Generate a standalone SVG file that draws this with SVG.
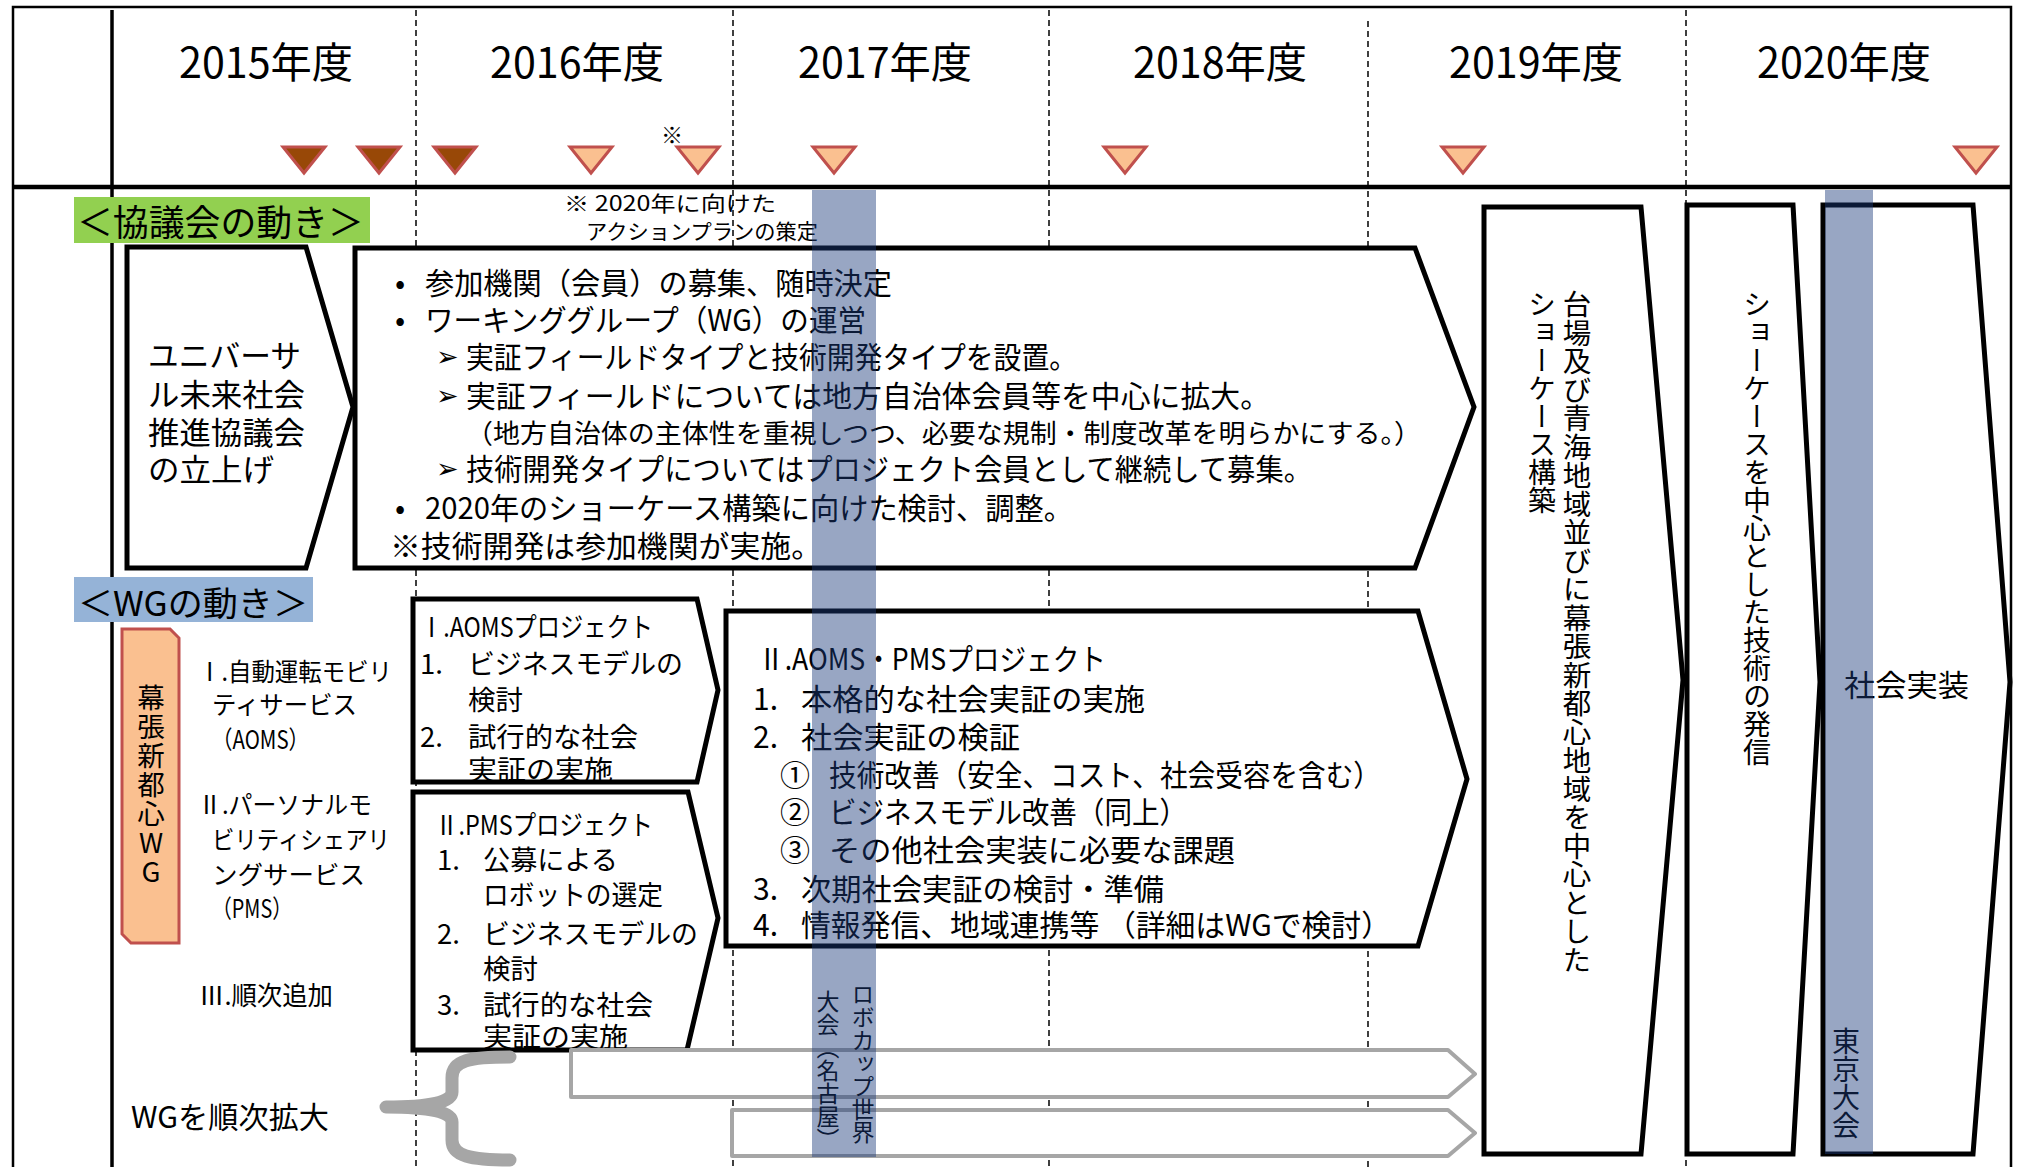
<svg xmlns="http://www.w3.org/2000/svg" xmlns:xlink="http://www.w3.org/1999/xlink" width="2018" height="1167" viewBox="0 0 2018 1167">
<style>
.t{font-family:"Noto Sans CJK JP","DejaVu Sans",sans-serif;fill:#000}
.arw{font-family:"DejaVu Sans","Noto Sans Symbols 2","Noto Sans CJK JP",sans-serif;fill:#000}
.c{dominant-baseline:central}
.v{writing-mode:vertical-rl;text-orientation:mixed}
.vu{writing-mode:vertical-rl;text-orientation:upright}
.box{fill:#fff;stroke:#000;stroke-width:5;stroke-linejoin:miter}
.gray{fill:#fff;stroke:#A6A6A6;stroke-width:4;stroke-linejoin:round}
.brace{fill:none;stroke:#A6A6A6;stroke-width:13;stroke-linecap:round;stroke-linejoin:round}
.trid{fill:#984807;stroke:#C0504D;stroke-width:3}
.tril{fill:#FAC090;stroke:#C0504D;stroke-width:3}
.dash{stroke:#000;stroke-width:1.5;stroke-dasharray:6 4;fill:none}
.band{fill:rgb(26,57,122);fill-opacity:0.45}
.year{font-size:42px}
.f30{font-size:30px}
.f27{font-size:27.5px}
.f25{font-size:25px}
</style>
<defs>
<path id="tri" d="M-21,0 L21,0 L0,26 Z"/>
</defs>
<rect width="2018" height="1167" fill="#fff"/>

<g id="grid">
<path d="M13,1167 L13,7 L2011,7 L2011,1167" fill="none" stroke="#000" stroke-width="2.5"/>
<line x1="112" y1="10" x2="112" y2="1167" stroke="#000" stroke-width="3.5"/>
<line x1="13" y1="187" x2="2011" y2="187" stroke="#000" stroke-width="4.5"/>
<line class="dash" x1="416" y1="10" x2="416" y2="1167"/>
<line class="dash" x1="733" y1="10" x2="733" y2="1167"/>
<line class="dash" x1="1049" y1="10" x2="1049" y2="1167"/>
<line class="dash" x1="1368" y1="21" x2="1368" y2="1167"/>
<line class="dash" x1="1686" y1="10" x2="1686" y2="1167"/>
</g>

<g id="years" class="t year">
<text class="c" x="179" y="59" textLength="174" lengthAdjust="spacingAndGlyphs">2015年度</text>
<text class="c" x="490" y="59" textLength="174" lengthAdjust="spacingAndGlyphs">2016年度</text>
<text class="c" x="798" y="59" textLength="174" lengthAdjust="spacingAndGlyphs">2017年度</text>
<text class="c" x="1133" y="59" textLength="174" lengthAdjust="spacingAndGlyphs">2018年度</text>
<text class="c" x="1449" y="59" textLength="174" lengthAdjust="spacingAndGlyphs">2019年度</text>
<text class="c" x="1757" y="59" textLength="174" lengthAdjust="spacingAndGlyphs">2020年度</text>
</g>

<g id="milestones">
<use xlink:href="#tri" href="#tri" class="trid" x="304" y="147"/>
<use xlink:href="#tri" href="#tri" class="trid" x="379" y="147"/>
<use xlink:href="#tri" href="#tri" class="trid" x="455" y="147"/>
<use xlink:href="#tri" href="#tri" class="tril" x="591" y="147"/>
<use xlink:href="#tri" href="#tri" class="tril" x="698" y="147"/>
<use xlink:href="#tri" href="#tri" class="tril" x="834" y="147"/>
<use xlink:href="#tri" href="#tri" class="tril" x="1125" y="147"/>
<use xlink:href="#tri" href="#tri" class="tril" x="1463" y="147"/>
<use xlink:href="#tri" href="#tri" class="tril" x="1976" y="147"/>
<text class="t c" x="672" y="133" font-size="22" text-anchor="middle">※</text>
</g>

<g id="note" class="t">
<text class="c" x="564" y="202" font-size="21" textLength="212" lengthAdjust="spacingAndGlyphs">※  2020年に向けた</text>
<text class="c" x="586" y="230" font-size="21" textLength="232" lengthAdjust="spacingAndGlyphs">アクションプランの策定</text>
</g>

<g id="label-council">
<rect x="74" y="197" width="296" height="46" fill="#92D050"/>
<text class="t c" x="77" y="220" font-size="36" textLength="287" lengthAdjust="spacingAndGlyphs">＜協議会の動き＞</text>
</g>

<g id="node-launch">
<path class="box" d="M127,247 L306,247 L353,407 L306,568 L127,568 Z"/>
<g class="t" font-size="31">
<text class="c" x="148" y="353" textLength="153" lengthAdjust="spacingAndGlyphs">ユニバーサ</text>
<text class="c" x="148" y="392" textLength="157" lengthAdjust="spacingAndGlyphs">ル未来社会</text>
<text class="c" x="148" y="430" textLength="157" lengthAdjust="spacingAndGlyphs">推進協議会</text>
<text class="c" x="148" y="467" textLength="126" lengthAdjust="spacingAndGlyphs">の立上げ</text>
</g>
</g>

<g id="node-council">
<path class="box" d="M355,248 L1415,248 L1474,407 L1415,568 L355,568 Z"/>
<g class="t f30">
<text class="c" x="395" y="281">•</text>
<text class="c" x="425" y="281" textLength="467" lengthAdjust="spacingAndGlyphs">参加機関（会員）の募集、随時決定</text>
<text class="c" x="395" y="318">•</text>
<text class="c" x="425" y="318" textLength="441" lengthAdjust="spacingAndGlyphs">ワーキンググループ（WG）の運営</text>
<text class="c" x="466" y="355" textLength="611" lengthAdjust="spacingAndGlyphs">実証フィールドタイプと技術開発タイプを設置。</text>
<text class="c" x="466" y="394" textLength="804" lengthAdjust="spacingAndGlyphs">実証フィールドについては地方自治体会員等を中心に拡大。</text>
<text class="c" x="466" y="431" font-size="26.5" textLength="955" lengthAdjust="spacingAndGlyphs">（地方自治体の主体性を重視しつつ、必要な規制・制度改革を明らかにする。）</text>
<text class="c" x="466" y="467" textLength="846" lengthAdjust="spacingAndGlyphs">技術開発タイプについてはプロジェクト会員として継続して募集。</text>
<text class="c" x="395" y="506">•</text>
<text class="c" x="425" y="506" textLength="648" lengthAdjust="spacingAndGlyphs">2020年のショーケース構築に向けた検討、調整。</text>
<text class="c" x="390" y="544" textLength="432" lengthAdjust="spacingAndGlyphs">※技術開発は参加機関が実施。</text>
</g>
<g class="arw" font-size="27">
<text class="c" x="436" y="356">➢</text>
<text class="c" x="436" y="395">➢</text>
<text class="c" x="436" y="468">➢</text>
</g>
</g>

<g id="node-2019">
<path class="box" d="M1484,207 L1641,207 L1683,680 L1641,1154 L1484,1154 Z"/>
<text class="t v" x="1577" y="290" font-size="28.5">台場及び青海地域並びに幕張新都心地域を中心とした</text>
<text class="t v" x="1542" y="290" font-size="28">ショーケース構築</text>
</g>

<g id="node-2020a">
<path class="box" d="M1687,205 L1793,205 L1820,682 L1793,1154 L1687,1154 Z"/>
<text class="t v" x="1757" y="290" font-size="28">ショーケースを中心とした技術の発信</text>
</g>

<g id="node-2020b">
<path class="box" d="M1823,205 L1973,205 L2010,682 L1973,1154 L1823,1154 Z"/>
<text class="t c" x="1844" y="683" font-size="30" textLength="125" lengthAdjust="spacingAndGlyphs">社会実装</text>
<text class="t v" x="1846" y="1027" font-size="28">東京大会</text>
</g>

<g id="label-wg">
<rect x="74" y="577" width="239" height="45" fill="#95B3D7"/>
<text class="t c" x="78" y="601" font-size="34" textLength="230" lengthAdjust="spacingAndGlyphs">＜WGの動き＞</text>
</g>

<g id="node-makuhari-wg">
<path d="M122,629 L170,629 L179,638 L179,943 L131,943 L122,934 Z" fill="#FAC090" stroke="#C0504D" stroke-width="3"/>
<text class="t vu" x="151" y="684" font-size="27.5" letter-spacing="1.5">幕張新都心WG</text>
</g>

<g id="wg-list" class="t f25">
<text class="c" x="198" y="670" textLength="194" lengthAdjust="spacingAndGlyphs">Ⅰ.自動運転モビリ</text>
<text class="c" x="212" y="703" textLength="145" lengthAdjust="spacingAndGlyphs">ティサービス</text>
<text class="c" x="212" y="738" textLength="97" lengthAdjust="spacingAndGlyphs">（AOMS）</text>
<text class="c" x="198" y="803" textLength="174" lengthAdjust="spacingAndGlyphs">Ⅱ.パーソナルモ</text>
<text class="c" x="212" y="838" textLength="178" lengthAdjust="spacingAndGlyphs">ビリティシェアリ</text>
<text class="c" x="212" y="873" textLength="153" lengthAdjust="spacingAndGlyphs">ングサービス</text>
<text class="c" x="212" y="907" textLength="80" lengthAdjust="spacingAndGlyphs">（PMS）</text>
<text class="c" x="199" y="993" font-size="26" textLength="134" lengthAdjust="spacingAndGlyphs">Ⅲ.順次追加</text>
<text class="c" x="131" y="1115" font-size="30" textLength="198" lengthAdjust="spacingAndGlyphs">WGを順次拡大</text>
</g>

<g id="node-aoms">
<path class="box" d="M413,599 L697,599 L718,690 L697,782 L413,782 Z"/>
<g class="t f27">
<text class="c" x="420" y="625" textLength="233" lengthAdjust="spacingAndGlyphs">Ⅰ.AOMSプロジェクト</text>
<text class="c" x="420" y="662">1.</text>
<text class="c" x="468" y="662" textLength="215" lengthAdjust="spacingAndGlyphs">ビジネスモデルの</text>
<text class="c" x="468" y="698">検討</text>
<text class="c" x="420" y="735">2.</text>
<text class="c" x="468" y="735" textLength="170" lengthAdjust="spacingAndGlyphs">試行的な社会</text>
<text class="c" x="468" y="768" textLength="145" lengthAdjust="spacingAndGlyphs">実証の実施</text>
</g>
</g>

<g id="node-pms">
<path class="box" d="M413,792 L688,792 L718,918 L687,1050 L413,1050 Z"/>
<g class="t f27">
<text class="c" x="435" y="823" textLength="218" lengthAdjust="spacingAndGlyphs">Ⅱ.PMSプロジェクト</text>
<text class="c" x="437" y="858">1.</text>
<text class="c" x="483" y="858" textLength="135" lengthAdjust="spacingAndGlyphs">公募による</text>
<text class="c" x="483" y="893" textLength="180" lengthAdjust="spacingAndGlyphs">ロボットの選定</text>
<text class="c" x="437" y="932">2.</text>
<text class="c" x="483" y="932" textLength="215" lengthAdjust="spacingAndGlyphs">ビジネスモデルの</text>
<text class="c" x="483" y="967">検討</text>
<text class="c" x="437" y="1003">3.</text>
<text class="c" x="483" y="1003" textLength="170" lengthAdjust="spacingAndGlyphs">試行的な社会</text>
<text class="c" x="483" y="1035" textLength="145" lengthAdjust="spacingAndGlyphs">実証の実施</text>
</g>
</g>

<g id="node-aoms-pms">
<path class="box" d="M726,611 L1418,611 L1467,779 L1418,946 L726,946 Z"/>
<g class="t f30">
<text class="c" x="758" y="657" textLength="348" lengthAdjust="spacingAndGlyphs">Ⅱ.AOMS・PMSプロジェクト</text>
<text class="c" x="753" y="697">1.</text>
<text class="c" x="801" y="697" textLength="344" lengthAdjust="spacingAndGlyphs">本格的な社会実証の実施</text>
<text class="c" x="753" y="735">2.</text>
<text class="c" x="801" y="735" textLength="219" lengthAdjust="spacingAndGlyphs">社会実証の検証</text>
<text class="c" x="780" y="773">①</text>
<text class="c" x="829" y="773" textLength="552" lengthAdjust="spacingAndGlyphs">技術改善（安全、コスト、社会受容を含む）</text>
<text class="c" x="780" y="810">②</text>
<text class="c" x="829" y="810" textLength="358" lengthAdjust="spacingAndGlyphs">ビジネスモデル改善（同上）</text>
<text class="c" x="780" y="848">③</text>
<text class="c" x="829" y="848" textLength="406" lengthAdjust="spacingAndGlyphs">その他社会実装に必要な課題</text>
<text class="c" x="753" y="887">3.</text>
<text class="c" x="801" y="887" textLength="363" lengthAdjust="spacingAndGlyphs">次期社会実証の検討・準備</text>
<text class="c" x="753" y="923">4.</text>
<text class="c" x="801" y="923" textLength="590" lengthAdjust="spacingAndGlyphs">情報発信、地域連携等 （詳細はWGで検討）</text>
</g>
</g>

<g id="connectors">
<path class="brace" d="M510,1057 C470,1057 452,1060 452,1078 L452,1092 C452,1102 430,1107 386,1107 C430,1107 452,1112 452,1122 L452,1140 C452,1156 470,1160 510,1160"/>
<path class="gray" d="M571,1050 L1448,1050 L1475,1074 L1448,1097 L571,1097 Z"/>
<path class="gray" d="M732,1110 L1448,1110 L1475,1133 L1448,1156 L732,1156 Z"/>
</g>

<g id="robocup">
<text class="t v" x="863" y="983" font-size="23">ロボカップ世界</text>
<text class="t v" x="828" y="990" font-size="23">大会（名古屋）</text>
</g>

<g id="bands">
<rect class="band" x="812" y="190" width="64" height="967"/>
<rect class="band" x="1825" y="190" width="48" height="964"/>
</g>
</svg>
